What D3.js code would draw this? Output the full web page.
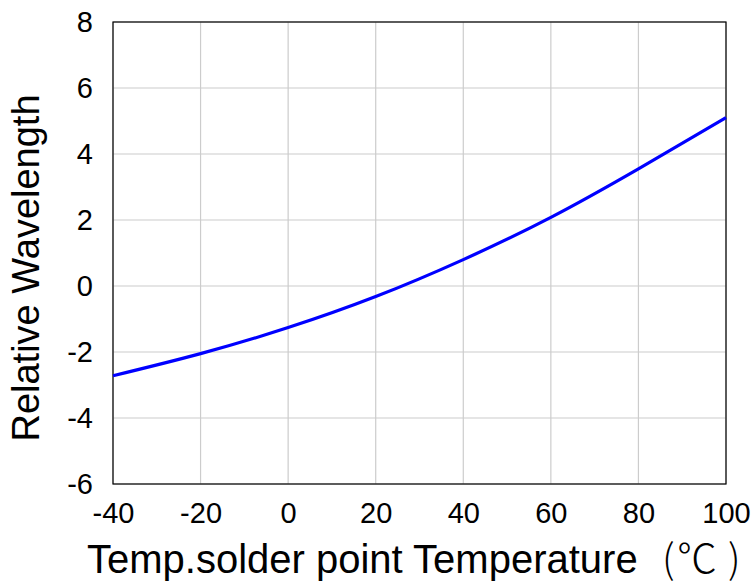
<!DOCTYPE html>
<html>
<head>
<meta charset="utf-8">
<script src="https://cdn.jsdelivr.net/npm/d3@7"></script>
<style>
  body { margin: 0; background: #fff; }
  text { font-family: "Liberation Sans", Arial, sans-serif; fill: #000; }
  .cjk { font-family: "Noto Sans CJK SC", sans-serif; font-weight: 300; }
</style>
</head>
<body>
<div id="chart-area"></div>
<script>
// curve
var temps = [-40, -20, 0, 20, 40, 60, 80, 100];
var shifts = [-2.72, -2.05, -1.26, -0.32, 0.80, 2.08, 3.55, 5.1];

var xTicks = [-40, -20, 0, 20, 40, 60, 80, 100];
var yTicks = [-6, -4, -2, 0, 2, 4, 6, 8];

var margin = { left: 113, top: 22, right: 29, bottom: 102 };
var width = 755 - margin.left - margin.right;
var height = 586 - margin.top - margin.bottom;

var svg = d3.select("#chart-area")
    .append("svg")
    .attr("width", 755)
    .attr("height", 586);

var g = svg.append("g")
    .attr("transform", "translate(" + margin.left + "," + margin.top + ")");

var x = d3.scaleLinear().domain([-40, 100]).range([0, width]);
var y = d3.scaleLinear().domain([-6, 8]).range([height, 0]);

// grid
g.append("g")
    .selectAll("line")
    .data(xTicks)
    .enter().append("line")
    .attr("x1", d => x(d)).attr("x2", d => x(d))
    .attr("y1", 0).attr("y2", height)
    .attr("stroke", "#cccccc")
    .attr("stroke-width", 1.2);

g.append("g")
    .selectAll("line")
    .data(yTicks)
    .enter().append("line")
    .attr("x1", 0).attr("x2", width)
    .attr("y1", d => y(d)).attr("y2", d => y(d))
    .attr("stroke", "#cccccc")
    .attr("stroke-width", 1.2);

// axes (labels only), plain hyphen for negatives
var xAxisCall = d3.axisBottom(x)
    .tickValues(xTicks)
    .tickSize(0)
    .tickPadding(18)
    .tickFormat(d => String(d));
g.append("g")
    .attr("transform", "translate(0," + height + ")")
    .call(xAxisCall)
    .call(a => a.select(".domain").remove())
    .selectAll("text")
    .attr("style", "font-size: 29px")
    .attr("fill", "#000");

var yAxisCall = d3.axisLeft(y)
    .tickValues(yTicks)
    .tickSize(0)
    .tickPadding(20)
    .tickFormat(d => String(d));
g.append("g")
    .call(yAxisCall)
    .call(a => a.select(".domain").remove())
    .selectAll("text")
    .attr("style", "font-size: 29px")
    .attr("fill", "#000");

// frame
g.append("rect")
    .attr("x", 0).attr("y", 0)
    .attr("width", width).attr("height", height)
    .attr("fill", "none")
    .attr("stroke", "#000")
    .attr("stroke-width", 1.2);

// curve
var line = d3.line()
    .x((d, i) => x(temps[i]))
    .y(d => y(d))
    .curve(d3.curveNatural);

g.append("path")
    .datum(shifts)
    .attr("d", line)
    .attr("fill", "none")
    .attr("stroke", "#0000ff")
    .attr("stroke-width", 3.2);

// X label
var xl = svg.append("text")
    .attr("x", 87)
    .attr("y", 573)
    .attr("style", "font-size: 40px");
xl.append("tspan").text("Temp.solder point Temperature");
xl.append("tspan").attr("class", "cjk").attr("x", 662).text("(");
xl.append("tspan").attr("class", "cjk").attr("x", 677).text("℃");
xl.append("tspan").attr("class", "cjk").attr("x", 728).text(")");

// Y label
svg.append("text")
    .attr("x", -268)
    .attr("y", 39)
    .attr("style", "font-size: 38px")
    .attr("text-anchor", "middle")
    .attr("transform", "rotate(-90)")
    .text("Relative Wavelength");
</script>
</body>
</html>
